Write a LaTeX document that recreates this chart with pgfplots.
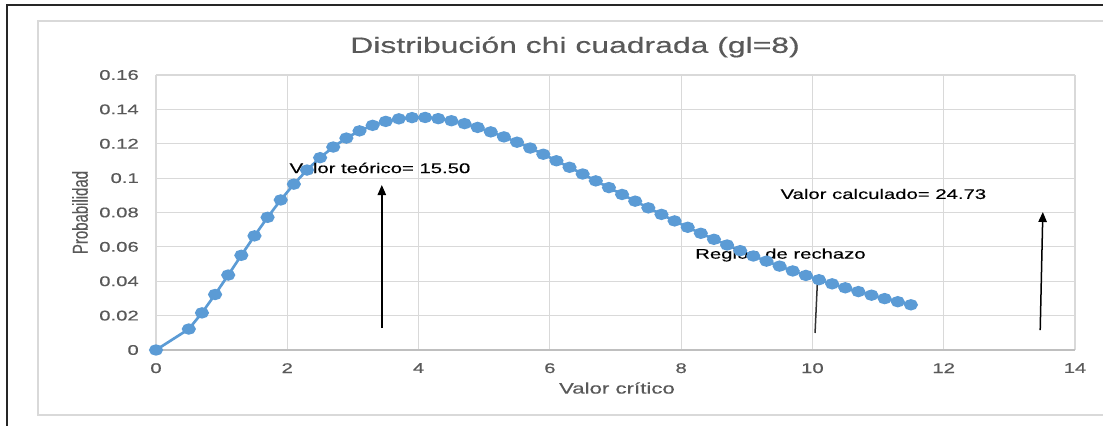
\documentclass[border=0pt]{standalone}
\usepackage{fontspec}
\setmainfont{Liberation Sans}[FakeStretch=1.45, FakeBold=0.4]
\newfontfamily\ylabfont{Liberation Sans}[FakeStretch=0.69, FakeBold=0.3]
\usepackage{pgfplots}
\pgfplotsset{compat=1.18}
\usetikzlibrary{arrows.meta}
\definecolor{excelblue}{HTML}{5B9BD5}
\definecolor{txtgray}{HTML}{595959}
\definecolor{gridgray}{HTML}{D9D9D9}
\definecolor{axgray}{HTML}{BFBFBF}
\begin{document}
\begin{tikzpicture}
\path[use as bounding box] (-93.6pt,-45pt) rectangle (568.2pt,210pt);
% frames
\draw[gridgray, line width=1pt] (720pt,-39pt) -- (-70.8pt,-39pt) -- (-70.8pt,197.4pt) -- (720pt,197.4pt);
\draw[black!85, line width=1.1pt] (-89.4pt,-50pt) -- (-89.4pt,207pt) -- (600pt,207pt);
\begin{axis}[
  at={(0pt,0pt)}, anchor=south west,
  scale only axis, width=551.4pt, height=165pt,
  xmin=0, xmax=14, ymin=0, ymax=0.16,
  xtick={0,2,4,6,8,10,12,14},
  xticklabels={0,2,4,6,8,10,12,14},
  ytick={0,0.02,0.04,0.06,0.08,0.1,0.12,0.14,0.16},
  yticklabels={0,0.02,0.04,0.06,0.08,0.1,0.12,0.14,0.16},
  scaled y ticks=false,
  grid=major,
  grid style={draw=gridgray, line width=0.7pt},
  axis x line*=bottom, axis y line*=left,
  x axis line style={draw=axgray, line width=0.8pt, -},
  y axis line style={draw=none},
  major tick length=0pt,
  tick style={draw=none},
  ticklabel style={font=\fontsize{8.4}{10}\selectfont, text=txtgray},
  xticklabel style={yshift=-4.4pt},
  yticklabel style={xshift=-6.8pt},
  title={Distribución chi cuadrada (gl=8)},
  title style={font=\fontsize{13.2}{15}\selectfont, text=txtgray, at={(axis description cs:0.456,1)}, anchor=center, yshift=10.8pt},
  xlabel={Valor crítico},
  xlabel style={font=\fontsize{9.2}{11}\selectfont, text=txtgray, at={(axis description cs:0.5016,0)}, anchor=center, yshift=-22.8pt},
  ylabel={Probabilidad},
  ylabel style={font=\ylabfont\fontsize{13}{15}\selectfont, text=txtgray, at={(axis description cs:-0.0827,0.5)}, anchor=center},
  clip=false,
]
\addplot[color=excelblue, line width=1.6pt, mark=*, mark size=2.6pt, mark options={fill=excelblue, draw=excelblue, xscale=1.3}] coordinates {
(0,0) (0.5,0.0122) (0.7,0.0216) (0.9,0.0323) (1.1,0.0436) (1.3,0.0551) (1.5,0.0664)
(1.7,0.0772) (1.9,0.0873) (2.1,0.0965) (2.3,0.1047) (2.5,0.1119) (2.7,0.1181)
(2.9,0.1233) (3.1,0.1275) (3.3,0.1307) (3.5,0.1330) (3.7,0.1345) (3.9,0.1352)
(4.1,0.1353) (4.3,0.1346) (4.5,0.1334) (4.7,0.1317) (4.9,0.1295) (5.1,0.1269)
(5.3,0.1240) (5.5,0.1209) (5.7,0.1175) (5.9,0.1139) (6.1,0.1101) (6.3,0.1063)
(6.5,0.1024) (6.7,0.0984) (6.9,0.0945) (7.1,0.0905) (7.3,0.0866) (7.5,0.0827)
(7.7,0.0789) (7.9,0.0751) (8.1,0.0714) (8.3,0.0679) (8.5,0.0644) (8.7,0.0611)
(8.9,0.0578) (9.1,0.0547) (9.3,0.0517) (9.5,0.0488) (9.7,0.0460) (9.9,0.0434)
(10.1,0.0409) (10.3,0.0385) (10.5,0.0362) (10.7,0.0340) (10.9,0.0319) (11.1,0.0299)
(11.3,0.0281) (11.5,0.0263)
};
\draw[black, line width=0.9pt, -{Triangle[length=6pt,width=5pt]}] (axis cs:3.44,0.0128) -- (axis cs:3.44,0.0960);
\draw[black, line width=0.9pt, -{Triangle[length=6pt,width=5pt]}] (axis cs:13.47,0.0116) -- (axis cs:13.51,0.0803);
\draw[black!80, line width=0.9pt] (axis cs:10.04,0.0099) -- (axis cs:10.08,0.0431);
\node[anchor=west, inner sep=0pt, font=\fontsize{8.4}{10}\selectfont] at (axis cs:2.03,0.1059) {Valor teórico= 15.50};
\node[anchor=west, inner sep=0pt, font=\fontsize{8.4}{10}\selectfont] at (axis cs:8.21,0.0553) {Región de rechazo};
\node[anchor=west, inner sep=0pt, font=\fontsize{8.4}{10}\selectfont] at (axis cs:9.51,0.0908) {Valor calculado= 24.73};
\end{axis}
\end{tikzpicture}
\end{document}
